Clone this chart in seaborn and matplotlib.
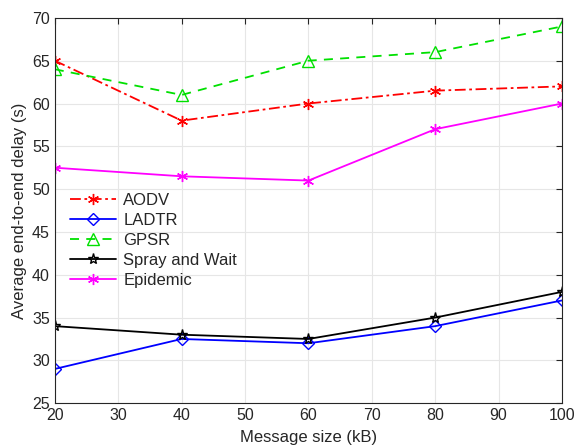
import matplotlib
matplotlib.use("Agg")
import matplotlib.pyplot as plt
import seaborn as sns
import pandas as pd

sizes = [20, 40, 60, 80, 100]
aodv = [65, 58, 60, 61.5, 62]
ladtr = [29, 32.5, 32, 34, 37]
gpsr = [64, 61, 65, 66, 69]
spray = [34, 33, 32.5, 35, 38]
epidemic = [52.5, 51.5, 51, 57, 60]
labels = ["AODV", "LADTR", "GPSR", "Spray and Wait", "Epidemic"]

sns.set_style("whitegrid")
plt.rcParams['font.family'] = ['Liberation Sans', 'DejaVu Sans']

fig = plt.figure(figsize=(5.83, 4.47), dpi=100)
ax = fig.add_axes([0.094, 0.098, 0.870, 0.862])

styles = [
    (aodv, "#ff0000", (0, (6, 2, 1.5, 2)), (6, 2, 0), 8),
    (ladtr, "#0000ff", "-", "D", 6),
    (gpsr, "#00e000", (0, (5, 4)), "^", 8),
    (spray, "#000000", "-", "*", 8),
    (epidemic, "#ff00ff", "-", (6, 2, 0), 8),
]
for (vals, col, ls, mk, ms), lab in zip(styles, labels):
    df = pd.DataFrame({"x": sizes, "y": vals})
    sns.lineplot(data=df, x="x", y="y", ax=ax, color=col, linestyle=ls,
                 marker=mk, markersize=ms, markerfacecolor="none",
                 markeredgecolor=col, markeredgewidth=1.0, linewidth=1.3,
                 label=lab)

ax.set_xlim(20, 100)
ax.set_ylim(25, 70)
ax.set_xticks(range(20, 101, 10))
ax.set_yticks(range(25, 71, 5))
ax.tick_params(labelsize=11.5, colors="#262626", length=4, direction="in",
               top=True, right=True)
ax.set_xlabel("Message size (kB)", fontsize=12, labelpad=5)
ax.set_ylabel("Average end-to-end delay (s)", fontsize=12, labelpad=4)
ax.grid(True, color="#e6e6e6", linewidth=0.8)
for s in ax.spines.values():
    s.set_color("#262626")
    s.set_linewidth(0.8)
    s.set_visible(True)
ax.set_facecolor("white")
leg = ax.legend(loc="upper left", bbox_to_anchor=(0.0, 0.585), frameon=False,
                fontsize=12, handlelength=2.8, handletextpad=0.4,
                labelspacing=0.3)
fig.savefig("out.png", dpi=100, facecolor="white")
